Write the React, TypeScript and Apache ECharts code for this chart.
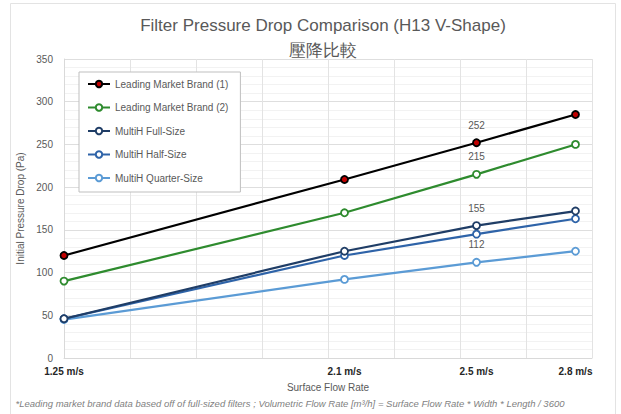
import React, { useEffect, useRef } from "react";
import * as echarts from "echarts";

const flowRates = [1.25, 2.1, 2.5, 2.8];
const xTickLabels = ["1.25 m/s", "2.1 m/s", "2.5 m/s", "2.8 m/s"];
const seriesNames = [
  "Leading Market Brand (1)",
  "Leading Market Brand (2)",
  "MultiH Full-Size",
  "MultiH Half-Size",
  "MultiH Quarter-Size",
];
const leading1 = [120, 209, 252, 285];
const leading2 = [90, 170, 215, 250];
const multiFull = [46, 125, 155, 172];
const multiHalf = [46, 120, 145, 163];
const multiQuarter = [45, 92, 112, 125];
const seriesValues = [leading1, leading2, multiFull, multiHalf, multiQuarter];
const labelShown = [true, true, true, false, true];
const labelledPointIndex = 2;

const lineColors = ["#000000", "#2e8b2e", "#1f3d66", "#2e63a8", "#5b9bd5"];
const fillColors = ["#c00000", "#ffffff", "#ffffff", "#ffffff", "#ffffff"];

const FONT = "'Liberation Sans Narrow', 'Liberation Sans', Arial, sans-serif";

export default function App() {
  const ref = useRef<HTMLDivElement>(null);
  useEffect(() => {
    if (!ref.current) return;
    const chart = echarts.init(ref.current, null, { renderer: "svg" });
    const series = seriesNames.map((name, s) => ({
      name,
      type: "line",
      symbol: "circle",
      symbolSize: 7,
      lineStyle: { color: lineColors[s], width: 2.2 },
      itemStyle: { color: fillColors[s], borderColor: lineColors[s], borderWidth: 1.8 },
      emphasis: { disabled: true },
      z: 10 - s,
      data: flowRates.map((x, i) => ({
        value: [x, seriesValues[s][i]],
        label: {
          show: labelShown[s] && i === labelledPointIndex,
          position: "top",
          distance: 8,
          color: "#595959",
          fontSize: 10,
          fontFamily: FONT,
        },
      })),
    }));
    chart.setOption({
      animation: false,
      backgroundColor: "#ffffff",
      textStyle: { fontFamily: FONT },
      title: {
        text: "Filter Pressure Drop Comparison (H13 V-Shape)\n壓降比較",
        left: 318,
        textAlign: "center",
        top: 8,
        textStyle: {
          color: "#595959",
          fontSize: 17,
          fontWeight: "normal",
          lineHeight: 25,
          fontFamily: FONT,
        },
      },
      legend: {
        orient: "vertical",
        left: 79,
        top: 72,
        padding: [7, 12, 9, 8],
        itemGap: 13.5,
        itemWidth: 22,
        itemHeight: 8,
        borderColor: "#bfbfbf",
        borderWidth: 1,
        backgroundColor: "#ffffff",
        textStyle: { color: "#595959", fontSize: 10, fontFamily: FONT },
        data: seriesNames,
        z: 20,
      },
      grid: { left: 64, right: 29, top: 59, bottom: 56 },
      xAxis: {
        type: "value",
        min: 1.25,
        max: 2.85,
        interval: 0.2,
        name: "Surface Flow Rate",
        nameLocation: "middle",
        nameGap: 24,
        nameTextStyle: { color: "#595959", fontSize: 10, fontFamily: FONT },
        axisLine: { show: true, lineStyle: { color: "#d9d9d9" } },
        axisTick: { show: false },
        splitLine: { show: true, lineStyle: { color: "#e3e3e3", width: 1 } },
        axisLabel: {
          customValues: flowRates,
          formatter: (v: number) => {
            const i = flowRates.findIndex((f) => Math.abs(f - v) < 1e-6);
            return i >= 0 ? xTickLabels[i] : "";
          },
          color: "#262626",
          fontWeight: "bold",
          fontSize: 10,
          margin: 8,
          fontFamily: FONT,
        },
      },
      yAxis: {
        type: "value",
        min: 0,
        max: 350,
        interval: 50,
        name: "Initial Pressure Drop (Pa)",
        nameLocation: "middle",
        nameGap: 38,
        nameTextStyle: { color: "#595959", fontSize: 10, fontFamily: FONT },
        axisLine: { show: true, lineStyle: { color: "#d9d9d9" } },
        axisTick: { show: false },
        axisLabel: { color: "#595959", fontSize: 10, margin: 11, fontFamily: FONT },
        splitLine: { show: true, lineStyle: { color: "#dedede", width: 1 } },
        minorTick: { show: false, splitNumber: 5 },
        minorSplitLine: { show: true, lineStyle: { color: "#f2f2f2", width: 1 } },
      },
      graphic: [
        {
          type: "rect",
          shape: { x: 10.5, y: 3.5, width: 605, height: 430 },
          style: { fill: "none", stroke: "#e3e3e3", lineWidth: 1 },
          silent: true,
          z: -1,
        },
        {
          type: "text",
          x: 290,
          y: 403,
          style: {
            text:
              "*Leading market brand data based off of full-sized filters ; Volumetric Flow Rate [m³/h] = Surface Flow Rate * Width * Length / 3600",
            align: "center",
            verticalAlign: "middle",
            fill: "#7f7f7f",
            fontSize: 9.5,
            fontStyle: "italic",
            fontFamily: FONT,
          },
        },
      ],
      series,
    });
    return () => chart.dispose();
  }, []);
  return (
    <div
      ref={ref}
      style={{ position: "fixed", left: 0, top: 0, width: 621, height: 414 }}
    />
  );
}
